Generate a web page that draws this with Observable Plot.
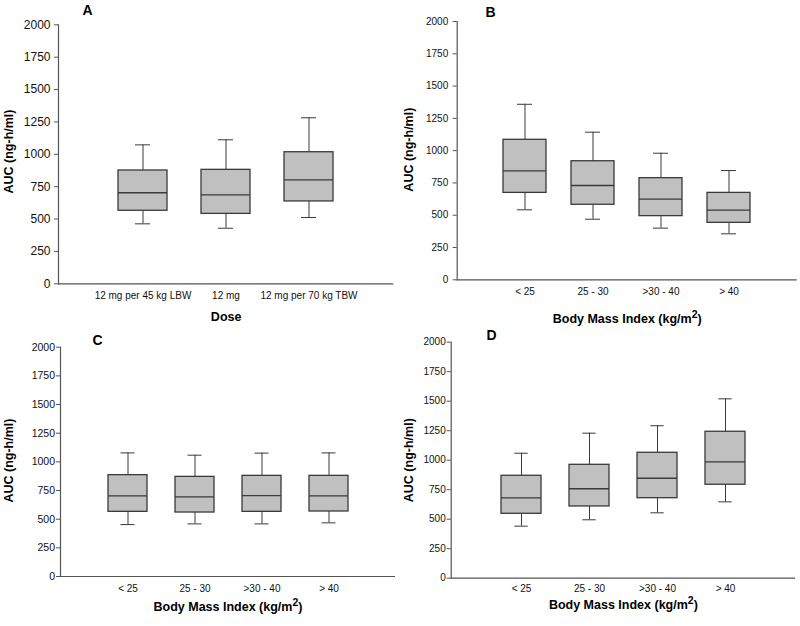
<!DOCTYPE html>
<html>
<head>
<meta charset="utf-8">
<script src="https://cdn.jsdelivr.net/npm/d3@7"></script>
<script src="https://cdn.jsdelivr.net/npm/@observablehq/plot@0.6"></script>
<style>
  html, body { margin: 0; padding: 0; background: #fff; }
  #wrap { position: relative; width: 800px; height: 626px; overflow: hidden; font-family: "Liberation Sans", Arial, sans-serif; }
  .panel { position: absolute; }
</style>
</head>
<body>
<div id="wrap"></div>
<script>
// ---- data ----
const doseGroups = ["12 mg per 45 kg LBW", "12 mg", "12 mg per 70 kg TBW"];
const bmiGroups = ["< 25", "25 - 30", ">30 - 40", "> 40"];
const yTicks = [0, 250, 500, 750, 1000, 1250, 1500, 1750, 2000];

const aLow = [463, 429, 512];
const aQ1 = [564, 540, 636];
const aMed = [703, 687, 803];
const aQ3 = [875, 880, 1016];
const aHigh = [1073, 1112, 1282];

const bLow = [542, 469, 400, 356];
const bQ1 = [673, 581, 493, 441];
const bMed = [844, 730, 624, 539];
const bQ3 = [1084, 918, 787, 673];
const bHigh = [1359, 1143, 980, 846];

const cLow = [453, 459, 459, 468];
const cQ1 = [564, 558, 564, 567];
const cMed = [703, 695, 706, 703];
const cQ3 = [884, 869, 878, 878];
const cHigh = [1078, 1058, 1076, 1078];

const dLow = [441, 495, 554, 647];
const dQ1 = [546, 608, 678, 792];
const dMed = [681, 758, 847, 986];
const dQ3 = [868, 961, 1063, 1241];
const dHigh = [1059, 1229, 1292, 1520];

const yTitle = "AUC (ng-h/ml)";
const doseTitle = "Dose";
const bmiTitle = "Body Mass Index (kg/m\u00b2)";

// ---- drawing ----
const FONT = "'Liberation Sans', Arial, Helvetica, sans-serif";
const LINE = "#555";
const BOXSTROKE = "#3a3a3a";

function makePanel(o) {
  const rows = o.groups.map((g, i) => ({g, lo: o.low[i], q1: o.q1[i], med: o.med[i], q3: o.q3[i], hi: o.high[i]}));
  const p = o.pad;
  const chart = Plot.plot({
    width: o.width, height: o.height,
    marginLeft: o.ml, marginRight: o.mr, marginTop: o.mt, marginBottom: o.mb,
    style: {background: "transparent", fontFamily: FONT, color: "#111", overflow: "visible"},
    x: {domain: o.groups, paddingInner: p, paddingOuter: (1 + p) / 2, axis: null},
    y: {domain: [0, 2000], axis: null},
    marks: [
      Plot.ruleX(rows, {x: "g", y1: "lo", y2: "hi", stroke: BOXSTROKE, strokeWidth: 1}),
      Plot.tickY(rows, {x: "g", y: "hi", stroke: BOXSTROKE, strokeWidth: 1, insetLeft: o.cap, insetRight: o.cap}),
      Plot.tickY(rows, {x: "g", y: "lo", stroke: BOXSTROKE, strokeWidth: 1, insetLeft: o.cap, insetRight: o.cap}),
      Plot.barY(rows, {x: "g", y1: "q1", y2: "q3", fill: "#c0c0c0", stroke: BOXSTROKE, strokeWidth: 1.3}),
      Plot.tickY(rows, {x: "g", y: "med", stroke: BOXSTROKE, strokeWidth: 1.3}),
      Plot.ruleY([0], {stroke: LINE, strokeWidth: 1.2}),
      Plot.frame({anchor: "left", stroke: LINE, strokeWidth: 1.2}),
      Plot.axisY({ticks: yTicks, tickSize: 4, tickPadding: o.yPad, fontSize: o.yFont, stroke: LINE, fill: "#111", label: null, tickFormat: d => String(d)}),
      Plot.axisX({tickSize: 0, tickPadding: o.xPad, fontSize: o.xFont, fill: "#111", label: null}),
      Plot.text([o.letter], {frameAnchor: "top-left", dx: o.letterDx, dy: o.letterDy, textAnchor: "middle", lineAnchor: "middle", fontWeight: "bold", fontSize: 14, fill: "#000"}),
      Plot.text([yTitle], {frameAnchor: "left", dx: o.ytDx, dy: o.ytDy, rotate: -90, textAnchor: "middle", lineAnchor: "middle", fontWeight: "bold", fontSize: 12.5, fill: "#000"}),
      Plot.text([o.xTitle], {frameAnchor: "bottom", dy: o.xtDy, textAnchor: "middle", lineAnchor: "middle", fontWeight: "bold", fontSize: 12.5, fill: "#000"})
    ]
  });
  const div = document.createElement("div");
  div.className = "panel";
  div.style.left = o.left + "px";
  div.style.top = o.top + "px";
  div.appendChild(chart);
  document.getElementById("wrap").appendChild(div);
  // superscript for m²
  d3.select(chart).selectAll("text").each(function () {
    const t = this.textContent;
    if (t.includes("\u00b2")) {
      const base = t.replace("\u00b2)", "");
      const sel = d3.select(this);
      sel.text(null);
      sel.append("tspan").text(base);
      sel.append("tspan").attr("dy", "-0.45em").attr("font-size", "10.5").text("2");
      sel.append("tspan").attr("dy", "0.45em").text(")");
    }
  });
}

makePanel({groups: doseGroups, low: aLow, q1: aQ1, med: aMed, q3: aQ3, high: aHigh,
  left: 0, top: 0, width: 400, height: 330, ml: 58, mr: 6.7, mt: 24.3, mb: 46.7,
  pad: 0.405, cap: 17, yPad: 4, yFont: 12, xPad: 8, xFont: 10,
  letter: "A", letterDx: 29, letterDy: -14.3, ytDx: -49.7, ytDy: -2.8, xTitle: doseTitle, xtDy: 33.4});

makePanel({groups: bmiGroups, low: bLow, q1: bQ1, med: bMed, q3: bQ3, high: bHigh,
  left: 400, top: 0, width: 400, height: 330, ml: 56.7, mr: 3.3, mt: 21, mb: 50.7,
  pad: 0.368, cap: 14, yPad: 5, yFont: 10, xPad: 8, xFont: 10,
  letter: "B", letterDx: 33.3, letterDy: -9, ytDx: -48.4, ytDy: -1, xTitle: bmiTitle, xtDy: 38.7});

makePanel({groups: bmiGroups, low: cLow, q1: cQ1, med: cMed, q3: cQ3, high: cHigh,
  left: 0, top: 316, width: 400, height: 310, ml: 60, mr: 5, mt: 30.7, mb: 50,
  pad: 0.418, cap: 12.5, yPad: 1.5, yFont: 10.5, xPad: 8, xFont: 10,
  letter: "C", letterDx: 37, letterDy: -6.7, ytDx: -51.7, ytDy: -1.3, xTitle: bmiTitle, xtDy: 30});

makePanel({groups: bmiGroups, low: dLow, q1: dQ1, med: dMed, q3: dQ3, high: dHigh,
  left: 400, top: 316, width: 400, height: 310, ml: 50.7, mr: 5, mt: 25.7, mb: 48.3,
  pad: 0.405, cap: 13.3, yPad: 1.5, yFont: 10, xPad: 6.5, xFont: 10,
  letter: "D", letterDx: 40.3, letterDy: -6.7, ytDx: -42.7, ytDy: 0, xTitle: bmiTitle, xtDy: 26.3});
</script>
</body>
</html>
